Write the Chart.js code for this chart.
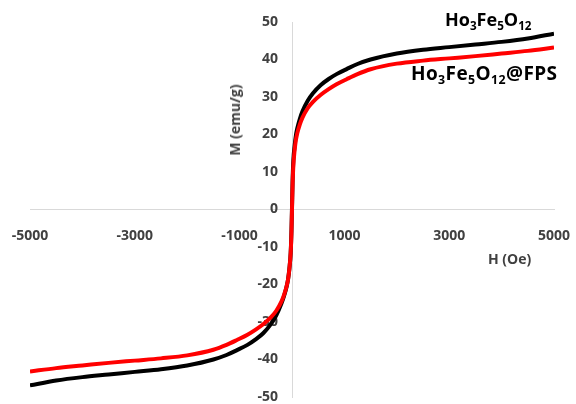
<!DOCTYPE html>
<html>
<head>
<meta charset="utf-8">
<script src="https://cdn.jsdelivr.net/npm/chart.js@4.4.1/dist/chart.umd.min.js"></script>
<style>
  html, body { margin: 0; padding: 0; background: #ffffff; }
  #wrap { position: relative; width: 576px; height: 404px; overflow: hidden; }
  canvas { position: absolute; left: 0; top: 0; }
  .lbl { position: absolute; font-family: "Open Sans", sans-serif; font-weight: 700; color: #000; white-space: nowrap; line-height: 1; }
  .lbl sub { font-size: 65%; vertical-align: -0.3em; line-height: 0; }
  .ttl { position: absolute; font-family: "Open Sans", sans-serif; font-weight: 700; color: #404040; font-size: 14px; white-space: nowrap; line-height: 1; }
</style>
</head>
<body>
<div id="wrap">
  <canvas id="c" width="576" height="404"></canvas>
  <div class="lbl" style="left:445px; top:10px; font-size:18px;">Ho<sub>3</sub>Fe<sub>5</sub>O<sub>12</sub></div>
  <div class="lbl" style="left:411px; top:64px; font-size:19px; letter-spacing:0.4px;">Ho<sub>3</sub>Fe<sub>5</sub>O<sub>12</sub>@FPS</div>
  <div class="ttl" style="left:488px; top:252px;">H (Oe)</div>
  <div class="ttl" style="left:235px; top:120px; transform: translate(-50%, -50%) rotate(-90deg);">M (emu/g)</div>
</div>
<script>
// Applied field (Oe)
const hField = [-5000,-4500,-4000,-3500,-3000,-2500,-2000,-1500,-1250,-1050,-850,-700,-550,-400,-300,-200,-150,-100,-75,-50,-25,-10,0,10,25,50,75,100,150,200,300,400,550,700,850,1050,1250,1500,2000,2500,3000,3500,4000,4500,5000];
// Magnetization (emu/g) of Ho3Fe5O12
const mHo = [-46.9,-45.6,-44.7,-44.0,-43.3,-42.6,-41.6,-40.0,-38.8,-37.5,-36.1,-34.7,-33.0,-30.5,-28.2,-25.0,-23.0,-20.4,-18.6,-15.8,-11.5,-5.5,0.5,7,13,17,19.8,21.6,24.2,26.2,29,31,33.2,34.8,36.1,37.5,38.8,40.0,41.6,42.6,43.3,44.0,44.7,45.6,46.9];
// Magnetization (emu/g) of Ho3Fe5O12@FPS
const mHoFPS = [-43.2,-42.3,-41.6,-40.9,-40.3,-39.7,-38.9,-37.4,-36.1,-34.8,-33.4,-32.1,-30.6,-28.7,-27.0,-24.5,-22.7,-20.3,-18.6,-15.8,-11.5,-6,0,6,11.5,15.8,18.6,20.3,22.7,24.5,27.0,28.7,30.6,32.1,33.4,34.8,36.1,37.4,38.9,39.7,40.3,40.9,41.6,42.3,43.2];
// Tick labels
const xTicks = [-5000,-3000,-1000,1000,3000,5000];
const yTicks = [-50,-40,-30,-20,-10,0,10,20,30,40,50];

const toPts = (ys) => hField.map((h, i) => ({x: h, y: ys[i]}));

const tickFont = { family: "'Open Sans', sans-serif", size: 14, weight: 'bold' };
const noPad = (s) => { s.paddingLeft = 0; s.paddingRight = 0; s.paddingTop = 0; s.paddingBottom = 0; };

// Centered y axis ignores tick padding, so move its labels left of the axis line.
const yLabelGap = {
  id: 'yLabelGap',
  beforeDraw(chart) {
    const items = chart.scales.y.getLabelItems();
    if (items._shifted) return;
    items.forEach(it => { it.options.translation[0] -= 14; });
    items._shifted = true;
  }
};

new Chart(document.getElementById('c'), {
  type: 'scatter',
  data: {
    datasets: [
      { label: 'Ho3Fe5O12@FPS', data: toPts(mHoFPS), showLine: true, borderColor: '#ff0000', backgroundColor: '#ff0000', borderWidth: 4, pointRadius: 0, cubicInterpolationMode: 'monotone' },
      { label: 'Ho3Fe5O12', data: toPts(mHo), showLine: true, borderColor: '#000000', backgroundColor: '#000000', borderWidth: 4, pointRadius: 0, cubicInterpolationMode: 'monotone' }
    ]
  },
  plugins: [yLabelGap],
  options: {
    responsive: false,
    devicePixelRatio: 1,
    animation: false,
    layout: { padding: { left: 30, right: 22, top: 22, bottom: 7 } },
    plugins: { legend: { display: false }, tooltip: { enabled: false } },
    scales: {
      x: {
        type: 'linear',
        position: { y: 0 },
        min: -5000, max: 5000,
        afterBuildTicks: (s) => { s.ticks = xTicks.map(v => ({ value: v })); },
        afterFit: noPad,
        ticks: { autoSkip: false, maxRotation: 0, color: '#404040', font: tickFont, padding: 18, callback: (v) => String(v) },
        grid: { display: false, drawTicks: false },
        border: { display: true, color: '#d9d9d9', width: 1 }
      },
      y: {
        type: 'linear',
        position: { x: 0 },
        min: -50, max: 50,
        afterBuildTicks: (s) => { s.ticks = yTicks.map(v => ({ value: v })); },
        afterFit: noPad,
        ticks: { autoSkip: false, color: '#404040', font: tickFont, padding: 15, callback: (v) => String(v) },
        grid: { display: false, drawTicks: false },
        border: { display: true, color: '#d9d9d9', width: 1 }
      }
    }
  }
});
</script>
</body>
</html>
